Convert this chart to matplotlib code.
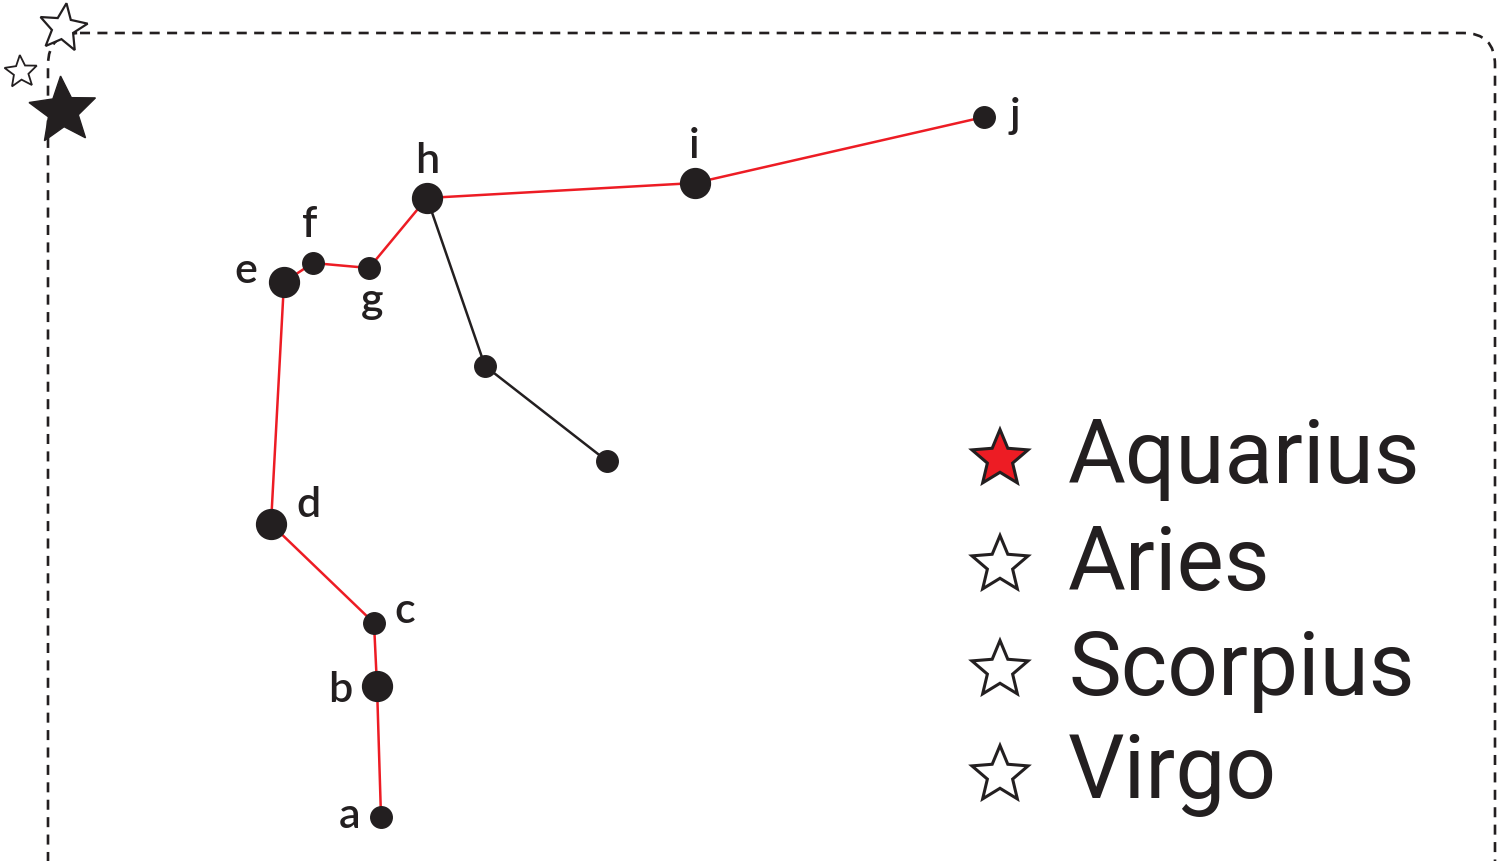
import numpy as np
import matplotlib; matplotlib.use("Agg"); import matplotlib.pyplot as plt
from matplotlib.patches import Polygon, FancyBboxPatch

RED, INK = "#ED1C24", "#231F20"

# star positions (pixel space, y down)
names = ["a", "b", "c", "d", "e", "f", "g", "h", "i", "j", "k", "l"]
xs = [381, 377, 374, 271, 284, 313, 369, 427, 695, 984, 485, 607]
ys = [817, 686, 623, 524, 282, 263, 268, 198, 183, 117, 366, 461]
big = [0, 1, 0, 1, 1, 0, 0, 1, 1, 0, 0, 0]
red_path = ["a", "b", "c", "d", "e", "f", "g", "h", "i", "j"]
black_path = ["h", "k", "l"]
# label text (baseline) positions
lab_x = {"a": 350, "b": 340, "c": 405, "d": 308, "e": 246, "f": 310, "g": 372, "h": 427, "i": 694, "j": 1015}
lab_y = {"a": 828, "b": 702, "c": 623, "d": 517, "e": 283, "f": 237, "g": 313, "h": 173, "i": 158, "j": 128}

legend_names = ["Aquarius", "Aries", "Scorpius", "Virgo"]
legend_y = [459, 565, 670, 775]
legend_text_y = [483, 590, 695, 798]

W, H = 1511, 861
fig = plt.figure(figsize=(W/100, H/100), dpi=100)
ax = fig.add_axes([0, 0, 1, 1]); ax.set_xlim(0, W); ax.set_ylim(H, 0); ax.axis("off")

def star(cx, cy, r, rot=0, ratio=0.45):
    pts = []
    for k in range(10):
        rr = r if k % 2 == 0 else r*ratio
        a = np.deg2rad(-90 + rot + 36*k)
        pts.append((cx + rr*np.cos(a), cy + rr*np.sin(a)))
    return pts

# dashed rounded frame
frame = FancyBboxPatch((48, 33), 1447, 900, boxstyle="round,pad=0,rounding_size=32",
                       fill=False, ec=INK, lw=1.9, ls=(0, (3.8, 2.8)), zorder=1)
ax.add_patch(frame)

pos = dict(zip(names, zip(xs, ys)))
ax.plot([pos[n][0] for n in red_path], [pos[n][1] for n in red_path], color=RED, lw=1.8, zorder=2)
ax.plot([pos[n][0] for n in black_path], [pos[n][1] for n in black_path], color=INK, lw=1.8, zorder=2)
for n, x, y, b in zip(names, xs, ys, big):
    ax.plot(x, y, "o", color=INK, ms=21.5 if b else 15.5, zorder=3)
for n in lab_x:
    ax.text(lab_x[n], lab_y[n], n, ha="center", va="baseline", fontsize=31,
            fontfamily="Lato", fontweight="semibold", color=INK, zorder=4)

# top-left decoration stars
ax.add_patch(Polygon(star(63, 28, 25, rot=8), closed=True, fc="white", ec=INK, lw=1.6, zorder=5))
ax.add_patch(Polygon(star(21, 72, 17, rot=-4), closed=True, fc="white", ec=INK, lw=1.3, zorder=5))
ax.add_patch(Polygon(star(63, 111, 35, rot=-4, ratio=0.45), closed=True, fc=INK, ec=INK, lw=1, zorder=5))

# legend
for i, (nm, yc, yt) in enumerate(zip(legend_names, legend_y, legend_text_y)):
    ax.add_patch(Polygon(star(1000, yc, 29.5), closed=True, fc=RED if i == 0 else "white",
                         ec=INK, lw=2.2, zorder=5))
    ax.text(1068, yt, nm, ha="left", va="baseline", fontsize=64, fontfamily="Roboto",
            fontweight="normal", color=INK, zorder=5)

fig.savefig("out.png", dpi=100)
